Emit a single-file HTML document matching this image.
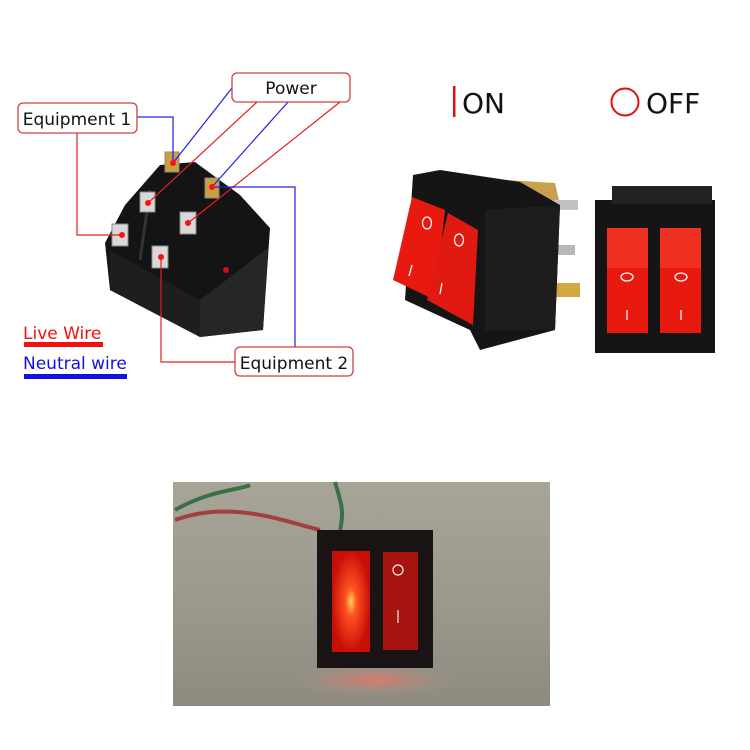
<!DOCTYPE html>
<html><head><meta charset="utf-8"><style>
html,body{margin:0;padding:0;background:#fff;}
svg{display:block;}
text{font-family:"DejaVu Sans","Liberation Sans",sans-serif;}
</style></head><body>
<svg width="750" height="750" viewBox="0 0 750 750" xmlns="http://www.w3.org/2000/svg">
<defs>
<linearGradient id="bg" x1="0" y1="0" x2="0" y2="1">
<stop offset="0" stop-color="#a8a497"/><stop offset="0.5" stop-color="#9d998d"/><stop offset="1" stop-color="#8e8a80"/>
</linearGradient>
<radialGradient id="glow" cx="0.5" cy="0.5" r="0.5">
<stop offset="0" stop-color="#ffd060"/><stop offset="0.3" stop-color="#ff5020"/><stop offset="1" stop-color="#c81008"/>
</radialGradient>
<radialGradient id="refl" cx="0.5" cy="0.5" r="0.5">
<stop offset="0" stop-color="#e07868" stop-opacity="0.9"/><stop offset="1" stop-color="#9d998d" stop-opacity="0"/>
</radialGradient>
</defs>

<!-- Left switch body -->
<polygon points="105,243 125,205 160,165 195,162 240,195 270,228 263,330 200,337 110,290" fill="#141414"/>
<polygon points="110,250 200,300 200,337 110,290" fill="#1e1e1e"/>
<polygon points="200,300 268,248 263,330 200,337" fill="#262626"/>
<line x1="150" y1="190" x2="140" y2="260" stroke="#333" stroke-width="3"/>
<!-- terminals -->
<g fill="#d8d8d8" stroke="#888" stroke-width="1">
<rect x="165" y="152" width="14" height="20" fill="#c8a040"/>
<rect x="205" y="178" width="14" height="20" fill="#c8a040"/>
<rect x="140" y="192" width="15" height="20"/>
<rect x="180" y="212" width="16" height="22"/>
<rect x="112" y="224" width="16" height="22"/>
<rect x="152" y="246" width="16" height="22"/>
</g>
<circle cx="226" cy="270" r="3" fill="#d01010"/>

<!-- wires -->
<g fill="none" stroke-width="1.2">
<polyline points="137,117 173,117 173,163" stroke="#2020e0"/>
<polyline points="77,133 77,235 122,235" stroke="#e02020"/>
<line x1="232" y1="88" x2="173" y2="163" stroke="#2020e0"/>
<line x1="257" y1="102" x2="148" y2="203" stroke="#e02020"/>
<line x1="288" y1="102" x2="212" y2="187" stroke="#2020e0"/>
<line x1="340" y1="102" x2="188" y2="223" stroke="#e02020"/>
<polyline points="212,187 295,187 295,347" stroke="#2020e0"/>
<polyline points="161,257 161,362 235,362" stroke="#e02020"/>
</g>
<g fill="#ff1010">
<circle cx="173" cy="163" r="3"/><circle cx="148" cy="203" r="3"/><circle cx="212" cy="187" r="3"/>
<circle cx="188" cy="223" r="3"/><circle cx="122" cy="235" r="3"/><circle cx="161" cy="257" r="3"/>
</g>

<!-- label boxes -->
<g fill="#fff" stroke="#d04040" stroke-width="1.3">
<rect x="232" y="73" width="118" height="29" rx="5"/>
<rect x="18" y="103" width="119" height="30" rx="5"/>
<rect x="235" y="347" width="118" height="29" rx="5"/>
</g>
<g font-size="17" fill="#111">
<text x="291" y="94" text-anchor="middle">Power</text>
<text x="77" y="125" text-anchor="middle">Equipment 1</text>
<text x="294" y="369" text-anchor="middle">Equipment 2</text>
</g>
<text x="23" y="339" font-size="17" fill="#f01010">Live Wire</text>
<rect x="24" y="342" width="79" height="5" fill="#f01010"/>
<text x="23" y="369" font-size="17" fill="#1010e0">Neutral wire</text>
<rect x="24" y="374" width="103" height="5" fill="#1010e0"/>

<!-- ON / OFF -->
<rect x="453" y="86" width="2.5" height="31" fill="#e01010"/>
<text x="462" y="113" font-size="28" fill="#111">ON</text>
<circle cx="625" cy="102" r="13.5" fill="none" stroke="#e01010" stroke-width="2"/>
<text x="646" y="113" font-size="28" fill="#111">OFF</text>

<!-- Switch A (tilted) -->
<polygon points="505,180 555,183 560,205 553,300 520,300" fill="#c8a050"/>
<rect x="540" y="200" width="38" height="10" fill="#c0c0c0"/>
<rect x="540" y="245" width="35" height="10" fill="#b8b8b8"/>
<rect x="545" y="283" width="35" height="14" fill="#d4a840"/>
<polygon points="413,175 440,170 520,182 560,205 555,330 480,350 470,330 405,300" fill="#151515"/>
<polygon points="485,210 560,205 555,330 485,330" fill="#1d1d1d"/>
<polygon points="412,197 445,210 435,300 393,280" fill="#e81a10"/>
<polygon points="448,213 478,230 473,325 427,300" fill="#e01a10"/>
<g fill="none" stroke="#fff" stroke-width="1.3">
<ellipse cx="427" cy="223" rx="4.5" ry="6"/><ellipse cx="459" cy="240" rx="4.5" ry="6"/>
<line x1="412" y1="265" x2="409" y2="276"/><line x1="442" y1="283" x2="440" y2="294"/>
</g>

<!-- Switch B (front) -->
<rect x="595" y="200" width="120" height="153" fill="#151515"/>
<rect x="612" y="186" width="100" height="18" fill="#222"/>
<rect x="607" y="228" width="41" height="105" fill="#e81a10"/>
<rect x="660" y="228" width="41" height="105" fill="#e81a10"/>
<rect x="607" y="228" width="41" height="40" fill="#f03020"/>
<rect x="660" y="228" width="41" height="40" fill="#f03020"/>
<g fill="none" stroke="#fff" stroke-width="1.3">
<ellipse cx="627" cy="277" rx="6" ry="4"/><ellipse cx="681" cy="277" rx="6" ry="4"/>
<line x1="627" y1="310" x2="627" y2="320"/><line x1="681" y1="310" x2="681" y2="320"/>
</g>

<!-- Bottom photo -->
<rect x="173" y="482" width="377" height="224" fill="url(#bg)"/>
<path d="M175,520 C230,500 280,520 320,530" stroke="#a04040" stroke-width="4" fill="none"/>
<path d="M175,510 C210,490 240,490 250,485" stroke="#3a7048" stroke-width="4" fill="none"/>
<path d="M335,482 C340,500 345,510 340,530" stroke="#3a7048" stroke-width="4" fill="none"/>
<ellipse cx="375" cy="680" rx="90" ry="18" fill="url(#refl)"/>
<rect x="317" y="530" width="116" height="138" fill="#1a1414"/>
<rect x="332" y="551" width="38" height="101" fill="url(#glow)"/>
<rect x="383" y="552" width="35" height="98" fill="#a81410"/>
<circle cx="398" cy="570" r="5" fill="none" stroke="#eee" stroke-width="1.2"/>
<line x1="398" y1="610" x2="398" y2="623" stroke="#ddd" stroke-width="1.3"/>
</svg>
</body></html>
